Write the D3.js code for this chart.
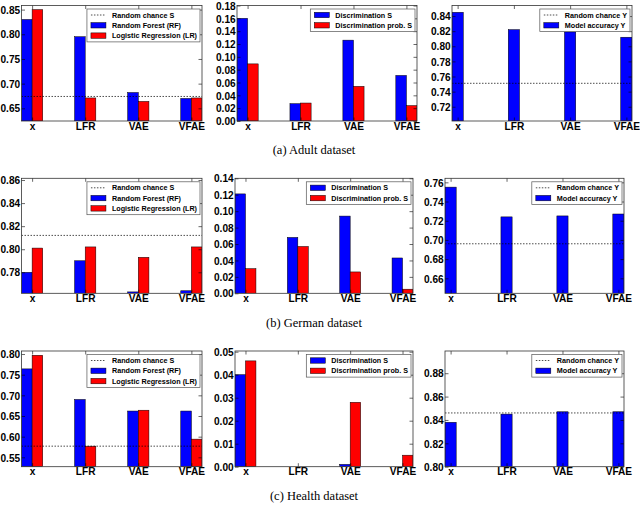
<!DOCTYPE html>
<html>
<head>
<meta charset="utf-8">
<script src="https://cdn.jsdelivr.net/npm/d3@7"></script>
<style>
  body { margin: 0; background: #fff; }
</style>
</head>
<body>
<svg id="chart" width="640" height="505"></svg>
<script>
// categories on every x axis
const categories = ["x", "LFR", "VAE", "VFAE"];

// Adult dataset
const adultRF = [0.830, 0.795, 0.682, 0.670];
const adultLR = [0.850, 0.671, 0.664, 0.671];
const adultChanceS = 0.674;
const adultDisc = [0.160, 0.027, 0.126, 0.071];
const adultDiscProb = [0.089, 0.028, 0.054, 0.024];
const adultAcc = [0.845, 0.822, 0.819, 0.812];
const adultChanceY = 0.751;

// German dataset
const germanRF = [0.780, 0.790, 0.763, 0.764];
const germanLR = [0.801, 0.802, 0.793, 0.802];
const germanChanceS = 0.812;
const germanDisc = [0.121, 0.068, 0.094, 0.043];
const germanDiscProb = [0.030, 0.057, 0.026, 0.005];
const germanAcc = [0.755, 0.724, 0.725, 0.727];
const germanChanceY = 0.696;

// Health dataset
const healthRF = [0.764, 0.690, 0.662, 0.662];
const healthLR = [0.797, 0.577, 0.664, 0.594];
const healthChanceS = 0.577;
const healthDisc = [0.040, 0, 0.001, 0];
const healthDiscProb = [0.046, 0, 0.028, 0.005];
const healthAcc = [0.838, 0.845, 0.847, 0.847];
const healthChanceY = 0.846;

// y tick labels
const ticksAdultRF = [0.65, 0.70, 0.75, 0.80, 0.85];
const ticksAdultDisc = [0, 0.02, 0.04, 0.06, 0.08, 0.10, 0.12, 0.14, 0.16, 0.18];
const ticksAdultAcc = [0.72, 0.74, 0.76, 0.78, 0.80, 0.82, 0.84];
const ticksGermanRF = [0.78, 0.80, 0.82, 0.84, 0.86];
const ticksGermanDisc = [0, 0.02, 0.04, 0.06, 0.08, 0.10, 0.12, 0.14];
const ticksGermanAcc = [0.66, 0.68, 0.70, 0.72, 0.74, 0.76];
const ticksHealthRF = [0.55, 0.60, 0.65, 0.70, 0.75, 0.80];
const ticksHealthDisc = [0, 0.01, 0.02, 0.03, 0.04, 0.05];
const ticksHealthAcc = [0.80, 0.82, 0.84, 0.86, 0.88];

const captions = ["(a) Adult dataset", "(b) German dataset", "(c) Health dataset"];

const blue = "#0000ff";
const red = "#ff0000";
const sansFont = "'Liberation Sans', Arial, sans-serif";
const serifFont = "'Liberation Serif', 'Times New Roman', serif";
const svg = d3.select("#chart");

// legend names
const nameChanceS = "Random chance S";
const nameChanceY = "Random chance Y";
const nameRF = "Random Forest (RF)";
const nameLR = "Logistic Regression (LR)";
const nameDisc = "Discrimination S";
const nameDiscProb = "Discrimination prob. S";
const nameAcc = "Model accuracy Y";

const panels = [
  { box: { l: 21.5, r: 202, t: 5.5, b: 121 }, ylim: [0.6243, 0.8583], ticks: ticksAdultRF,
    series: [{ name: nameRF, values: adultRF, color: blue }, { name: nameLR, values: adultLR, color: red }],
    chance: { name: nameChanceS, value: adultChanceS } },
  { box: { l: 237, r: 417, t: 5.5, b: 121 }, ylim: [0, 0.18], ticks: ticksAdultDisc,
    series: [{ name: nameDisc, values: adultDisc, color: blue }, { name: nameDiscProb, values: adultDiscProb, color: red }] },
  { box: { l: 452, r: 632, t: 5.5, b: 121 }, ylim: [0.7011, 0.8540], ticks: ticksAdultAcc,
    series: [{ name: nameAcc, values: adultAcc, color: blue }],
    chance: { name: nameChanceY, value: adultChanceY } },

  { box: { l: 21.5, r: 202, t: 178.3, b: 293.3 }, ylim: [0.7618, 0.8615], ticks: ticksGermanRF,
    series: [{ name: nameRF, values: germanRF, color: blue }, { name: nameLR, values: germanLR, color: red }],
    chance: { name: nameChanceS, value: germanChanceS } },
  { box: { l: 235, r: 413, t: 178.3, b: 293.3 }, ylim: [0, 0.14], ticks: ticksGermanDisc,
    series: [{ name: nameDisc, values: germanDisc, color: blue }, { name: nameDiscProb, values: germanDiscProb, color: red }] },
  { box: { l: 445, r: 624, t: 178.3, b: 293.3 }, ylim: [0.6444, 0.7642], ticks: ticksGermanAcc,
    series: [{ name: nameAcc, values: germanAcc, color: blue }],
    chance: { name: nameChanceY, value: germanChanceY } },

  { box: { l: 21.5, r: 202, t: 351, b: 466.7 }, ylim: [0.5273, 0.8073], ticks: ticksHealthRF,
    series: [{ name: nameRF, values: healthRF, color: blue }, { name: nameLR, values: healthLR, color: red }],
    chance: { name: nameChanceS, value: healthChanceS } },
  { box: { l: 235, r: 413, t: 351, b: 466.7 }, ylim: [0, 0.0503], ticks: ticksHealthDisc,
    series: [{ name: nameDisc, values: healthDisc, color: blue }, { name: nameDiscProb, values: healthDiscProb, color: red }] },
  { box: { l: 445, r: 624, t: 351, b: 466.7 }, ylim: [0.80, 0.899], ticks: ticksHealthAcc,
    series: [{ name: nameAcc, values: healthAcc, color: blue }],
    chance: { name: nameChanceY, value: healthChanceY } }
];

const barW = 0.2;

panels.forEach((p, pi) => {
  const { l, r, t, b } = p.box;
  const k = p.series.length;
  const n = categories.length;

  const xScale = d3.scaleLinear()
    .domain([0, n - 1 + k * barW])
    .range([l, r]);
  const yScale = d3.scaleLinear()
    .domain(p.ylim)
    .range([b, t]);

  const g = svg.append("g");

  const clipId = "clip" + pi;
  g.append("clipPath").attr("id", clipId)
    .append("rect")
    .attr("x", l).attr("y", t).attr("width", r - l).attr("height", b - t);

  // bars
  const plot = g.append("g").attr("clip-path", `url(#${clipId})`);
  p.series.forEach((s, j) => {
    plot.selectAll(null)
      .data(s.values)
      .join("rect")
      .attr("x", (d, i) => xScale(i + j * barW))
      .attr("width", xScale(barW) - xScale(0))
      .attr("y", d => yScale(d))
      .attr("height", d => Math.max(0, yScale(p.ylim[0]) - yScale(d)))
      .attr("fill", s.color)
      .attr("stroke", "#000")
      .attr("stroke-width", 0.5);
  });

  // random chance line
  if (p.chance) {
    plot.append("line")
      .attr("x1", l).attr("x2", r)
      .attr("y1", yScale(p.chance.value)).attr("y2", yScale(p.chance.value))
      .attr("stroke", "#000")
      .attr("stroke-width", 0.7)
      .attr("stroke-dasharray", "1.5,1.5");
  }

  // axes, ticks pointing inward on all four sides
  const tickPos = categories.map((c, i) => i + k * barW / 2);

  const yAx = g.append("g")
    .attr("transform", `translate(${l},0)`)
    .call(d3.axisLeft(yScale)
      .tickValues(p.ticks)
      .tickFormat(d3.format(".2f"))
      .tickSizeInner(-3.5)
      .tickSizeOuter(0)
      .tickPadding(1.5));

  const yAxR = g.append("g")
    .attr("transform", `translate(${r},0)`)
    .call(d3.axisRight(yScale)
      .tickValues(p.ticks)
      .tickFormat("")
      .tickSizeInner(-3.5)
      .tickSizeOuter(0));

  const xAx = g.append("g")
    .attr("transform", `translate(0,${b})`)
    .call(d3.axisBottom(xScale)
      .tickValues(tickPos)
      .tickFormat((d, i) => categories[i])
      .tickSizeInner(-3.5)
      .tickSizeOuter(0)
      .tickPadding(0.5));

  const xAxT = g.append("g")
    .attr("transform", `translate(0,${t})`)
    .call(d3.axisTop(xScale)
      .tickValues(tickPos)
      .tickFormat("")
      .tickSizeInner(-3.5)
      .tickSizeOuter(0));

  [yAx, yAxR, xAx, xAxT].forEach(a => {
    a.select(".domain").remove();
    a.selectAll(".tick line").attr("stroke", "#000").attr("stroke-width", 0.6);
    a.selectAll("text")
      .style("font-family", sansFont)
      .style("font-size", "11.5px")
      .style("font-weight", "bold")
      .attr("fill", "#000")
      .attr("transform", "scale(0.88,1)");
  });

  // frame
  g.append("rect")
    .attr("x", l).attr("y", t).attr("width", r - l).attr("height", b - t)
    .attr("fill", "none")
    .attr("stroke", "#333")
    .attr("stroke-width", 0.8);

  // legend
  const items = [];
  if (p.chance) items.push({ name: p.chance.name, type: "line" });
  p.series.forEach(s => items.push({ name: s.name, type: "rect", color: s.color }));

  const rowH = 10.3;
  const lg = g.append("g");
  const box = lg.append("rect")
    .attr("fill", "#fff")
    .attr("stroke", "#555")
    .attr("stroke-width", 0.7);
  const texts = lg.selectAll("text")
    .data(items)
    .join("text")
    .attr("x", 25)
    .attr("y", (d, i) => 6 + i * rowH)
    .attr("dy", "0.35em")
    .style("font-family", sansFont)
    .style("font-size", "7.2px")
    .style("font-weight", "bold")
    .attr("fill", "#000")
    .text(d => d.name);
  let maxW = 0;
  texts.each(function () { maxW = Math.max(maxW, this.getComputedTextLength()); });
  const boxW = 25 + maxW + 3;
  const boxH = items.length * rowH + 2;
  box.attr("x", 0).attr("y", 0).attr("width", boxW).attr("height", boxH);

  items.forEach((d, i) => {
    const cy = 6 + i * rowH;
    if (d.type === "line") {
      lg.append("line")
        .attr("x1", 4).attr("x2", 19)
        .attr("y1", cy).attr("y2", cy)
        .attr("stroke", "#000")
        .attr("stroke-width", 0.7)
        .attr("stroke-dasharray", "1.5,1.5");
    } else {
      lg.append("rect")
        .attr("x", 4).attr("y", cy - 2.7)
        .attr("width", 15).attr("height", 5.4)
        .attr("fill", d.color)
        .attr("stroke", "#000")
        .attr("stroke-width", 0.5);
    }
  });
  lg.attr("transform", `translate(${r - 2 - boxW},${t + 3.5})`);
});

// captions
const captionY = [154, 327, 500];
svg.selectAll(".caption")
  .data(captions)
  .join("text")
  .attr("class", "caption")
  .attr("x", 314)
  .attr("y", (d, i) => captionY[i])
  .attr("text-anchor", "middle")
  .style("font-family", serifFont)
  .style("font-size", "12.5px")
  .attr("fill", "#000")
  .text(d => d);
</script>
</body>
</html>
